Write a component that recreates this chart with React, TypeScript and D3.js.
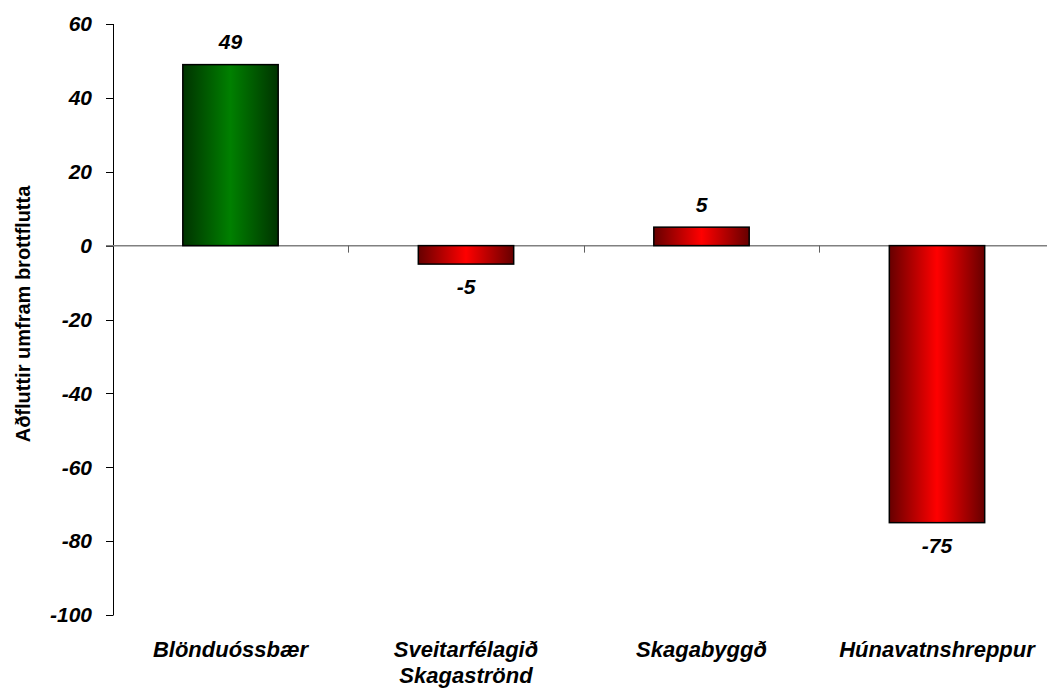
import React from "react";
import * as d3 from "d3";

// sveitarfélög og aðfluttir umfram brottflutta
const categories = ["Blönduóssbær", "Sveitarfélagið\nSkagaströnd", "Skagabyggð", "Húnavatnshreppur"];
const values = [49, -5, 5, -75];
const yTicks = [60, 40, 20, 0, -20, -40, -60, -80, -100];
const yTitle = "Aðfluttir umfram brottflutta";

const W = 1047;
const H = 693;
const margin = { left: 112.75, right: -7.75, top: 24, bottom: 78 };

export default function App() {
  const x = d3
    .scaleBand<string>()
    .domain(categories)
    .range([margin.left, W - margin.right])
    .paddingInner(0)
    .paddingOuter(0);
  const y = d3.scaleLinear().domain([-100, 60]).range([H - margin.bottom, margin.top]);
  const bw = x.bandwidth() * 0.405;
  const font = "Arial, 'Liberation Sans', sans-serif";
  const y0 = y(0);

  return (
    <svg width={W} height={H} style={{ position: "absolute", left: 0, top: 0 }}>
      <defs>
        <linearGradient id="gGreen" x1="0" x2="1" y1="0" y2="0">
          <stop offset="0" stopColor="#003300" />
          <stop offset="0.5" stopColor="#008000" />
          <stop offset="1" stopColor="#003300" />
        </linearGradient>
        <linearGradient id="gRed" x1="0" x2="1" y1="0" y2="0">
          <stop offset="0" stopColor="#660000" />
          <stop offset="0.5" stopColor="#ff0000" />
          <stop offset="1" stopColor="#660000" />
        </linearGradient>
      </defs>
      <rect width={W} height={H} fill="#fff" />

      {/* y axis */}
      <line x1={113.5} x2={113.5} y1={y(60)} y2={y(-100)} stroke="#000" strokeWidth={1} />
      {yTicks.map((t) => (
        <g key={t}>
          <line x1={106} x2={113.5} y1={Math.round(y(t)) + 0.5} y2={Math.round(y(t)) + 0.5} stroke="#000" />
          <text
            x={92}
            y={y(t)}
            dy="0.35em"
            textAnchor="end"
            fontFamily={font}
            fontWeight="bold"
            fontStyle="italic"
            fontSize={21}
          >
            {t}
          </text>
        </g>
      ))}

      {/* zero line */}
      <line x1={106} x2={W} y1={y0} y2={y0} stroke="#808080" strokeWidth={1.5} />
      {categories.slice(1).map((c) => (
        <line
          key={c}
          x1={Math.round(x(c)!) + 0.5}
          x2={Math.round(x(c)!) + 0.5}
          y1={y0}
          y2={y0 + 7}
          stroke="#606060"
        />
      ))}

      {/* bars */}
      {categories.map((c, i) => {
        const v = values[i];
        const cx = x(c)! + x.bandwidth() / 2;
        const top = Math.min(y(v), y0);
        const h = Math.abs(y(v) - y0);
        return (
          <g key={c}>
            <rect
              x={cx - bw / 2}
              y={top}
              width={bw}
              height={h}
              fill={v > 10 ? "url(#gGreen)" : "url(#gRed)"}
              stroke="#000"
              strokeWidth={1.5}
            />
            <text
              x={cx}
              y={v >= 0 ? y(v) - 23 : y(v) + 23}
              dy="0.35em"
              textAnchor="middle"
              fontFamily={font}
              fontWeight="bold"
              fontStyle="italic"
              fontSize={21}
            >
              {v}
            </text>
          </g>
        );
      })}

      {/* category labels */}
      {categories.map((c) => {
        const cx = x(c)! + x.bandwidth() / 2;
        return (
          <text
            key={c}
            x={cx}
            y={657}
            textAnchor="middle"
            fontFamily={font}
            fontWeight="bold"
            fontStyle="italic"
            fontSize={22}
          >
            {c.split("\n").map((line, j) => (
              <tspan key={j} x={cx} dy={j === 0 ? 0 : 26}>
                {line}
              </tspan>
            ))}
          </text>
        );
      })}

      {/* y title */}
      <text
        transform={`translate(30,${314}) rotate(-90)`}
        textAnchor="middle"
        fontFamily={font}
        fontWeight="bold"
        fontSize={20}
      >
        {yTitle}
      </text>
    </svg>
  );
}
